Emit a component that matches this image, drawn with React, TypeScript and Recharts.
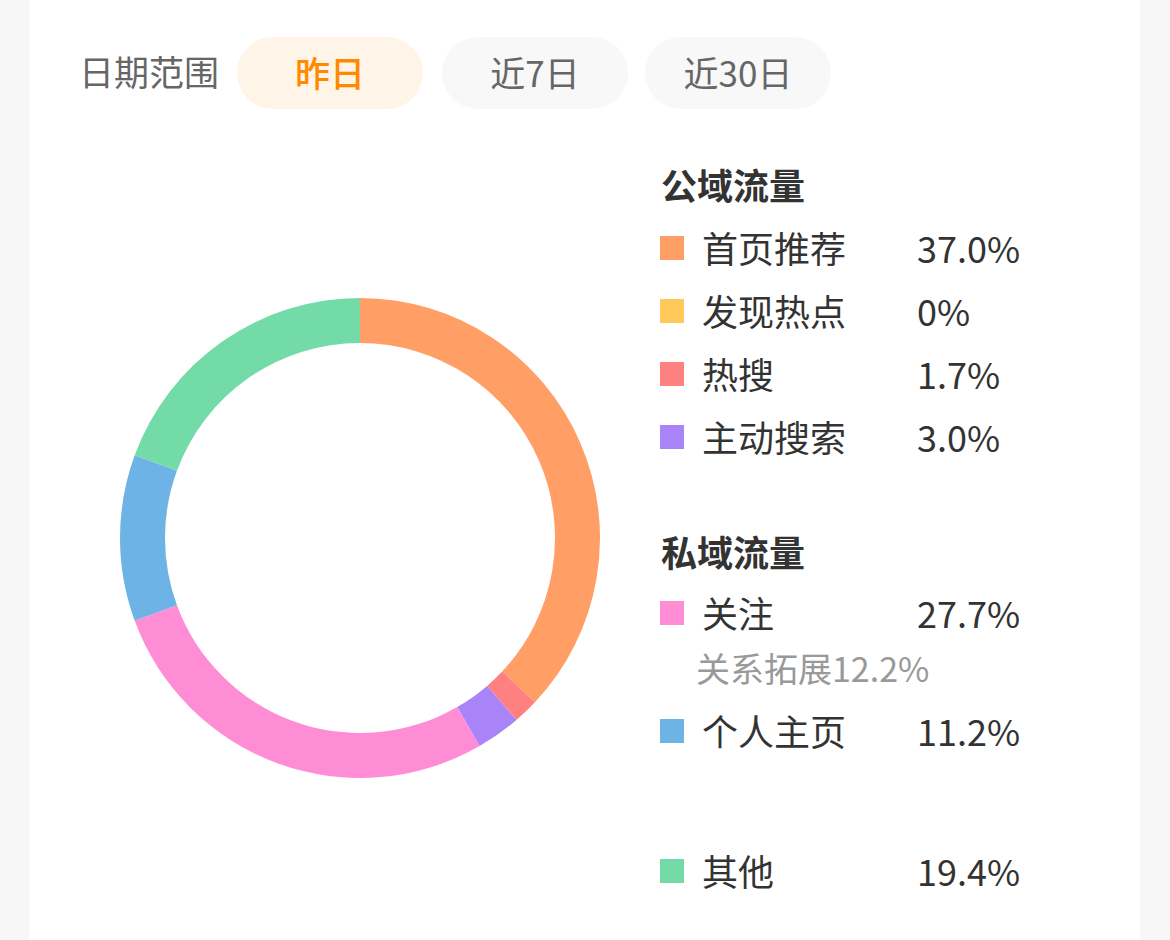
import React from 'react';
import { PieChart, Pie, Cell } from 'recharts';

const rangeLabel = '日期范围';
const rangeOptions = ['昨日', '近7日', '近30日'];
const activeRange = 0;

const categories = ['首页推荐', '发现热点', '热搜', '主动搜索', '关注', '个人主页', '其他'];
const values = [37.0, 0, 1.7, 3.0, 27.7, 11.2, 19.4];
const colors = ['#FF9F66', '#FFC85A', '#FF8080', '#A984F8', '#FF8DD6', '#6DB3E6', '#73DBA8'];

const publicTitle = '公域流量';
const publicIdx = [0, 1, 2, 3];
const privateTitle = '私域流量';
const privateIdx = [4, 5, 6];
const subLabel = '关系拓展';
const subValue = 12.2;
const subParent = 4;

const data = categories.map((name, i) => ({ name, value: values[i] }));
const fmt = (v: number) => (v === 0 ? '0%' : v.toFixed(1) + '%');

const FONT = '"Noto Sans CJK SC", "Noto Sans", sans-serif';

// layout (row centers)
const rowTop: Record<number, number> = { 0: 247, 1: 310, 2: 373, 3: 436, 4: 612, 5: 730, 6: 870 };

export default function App() {
  return (
    <div style={{ position: 'absolute', left: 0, top: 0, width: 1170, height: 940, background: '#F7F7F7', fontFamily: FONT, overflow: 'hidden' }}>
      <div style={{ position: 'absolute', left: 29, top: 0, width: 1111, height: 940, background: '#FFFFFF' }} />
      <div style={{ position: 'absolute', left: 79, top: 47, height: 48, lineHeight: '48px', fontSize: 35, color: '#666' }}>{rangeLabel}</div>
      {rangeOptions.map((r, i) => {
        const lefts = [237, 442, 645];
        const active = i === activeRange;
        return (
          <div key={r} style={{ position: 'absolute', left: lefts[i], top: 37, width: 186, height: 72, borderRadius: 36, background: active ? '#FFF4E8' : '#F8F8F8', color: active ? '#FF8A00' : '#666', fontSize: 35, fontWeight: active ? 500 : 400, display: 'flex', alignItems: 'center', justifyContent: 'center', paddingBottom: 3, boxSizing: 'border-box' }}>{r}</div>
        );
      })}
      <div style={{ position: 'absolute', left: 0, top: 0 }}>
        <PieChart width={720} height={940} margin={{ top: 0, right: 0, bottom: 0, left: 0 }}>
          <Pie data={data} dataKey="value" nameKey="name" cx={360} cy={538} innerRadius={195} outerRadius={240} startAngle={90} endAngle={-270} stroke="none" isAnimationActive={false}>
            {data.map((d, i) => <Cell key={d.name} fill={colors[i]} />)}
          </Pie>
        </PieChart>
      </div>
      {[{ t: publicTitle, y: 184 }, { t: privateTitle, y: 551 }].map(g => (
        <div key={g.t} style={{ position: 'absolute', left: 661, top: g.y - 24, height: 48, lineHeight: '48px', fontSize: 36, fontWeight: 700, color: '#333' }}>{g.t}</div>
      ))}
      {[...publicIdx, ...privateIdx].map(i => (
        <React.Fragment key={i}>
          <div style={{ position: 'absolute', left: 660, top: rowTop[i] - 11, width: 24, height: 24, background: colors[i] }} />
          <div style={{ position: 'absolute', left: 702, top: rowTop[i] - 24, height: 48, lineHeight: '48px', fontSize: 36, color: '#333' }}>{categories[i]}</div>
          <div style={{ position: 'absolute', left: 917, top: rowTop[i] - 24, height: 48, lineHeight: '48px', fontSize: 36, color: '#333' }}>{fmt(values[i])}</div>
        </React.Fragment>
      ))}
      <div style={{ position: 'absolute', left: 696, top: rowTop[subParent] + 56 - 24, height: 48, lineHeight: '48px', fontSize: 34, color: '#999' }}>{subLabel}{fmt(subValue)}</div>
    </div>
  );
}
